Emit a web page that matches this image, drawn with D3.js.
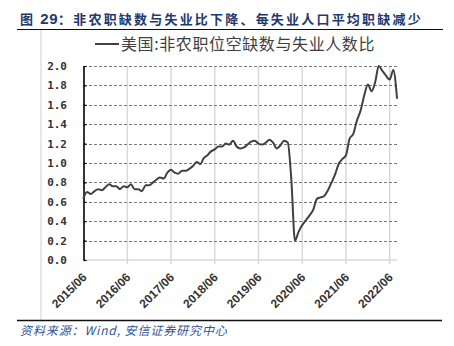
<!DOCTYPE html>
<html>
<head>
<meta charset="utf-8">
<script src="https://cdn.jsdelivr.net/npm/d3@7/dist/d3.min.js"></script>
<style>
  html, body { margin: 0; padding: 0; background: #fff; }
  svg { display: block; }
</style>
</head>
<body>
<svg id="chart" width="454" height="346"></svg>
<script>
// US ratio of nonfarm job openings to unemployed persons, monthly 2015/06 – 2022/08
const months = d3.timeMonth.range(new Date(2015, 5, 1), new Date(2022, 8, 1));
const ratio = [
  0.64, 0.70, 0.68, 0.71, 0.73, 0.72, 0.75, 0.78, 0.76, 0.76, 0.73, 0.76,
  0.75, 0.78, 0.73, 0.73, 0.71, 0.77, 0.77, 0.80, 0.83, 0.85, 0.84, 0.90,
  0.93, 0.90, 0.89, 0.92, 0.92, 0.94, 0.97, 1.01, 0.99, 1.05, 1.08, 1.12,
  1.14, 1.17, 1.17, 1.20, 1.19, 1.23, 1.17, 1.15, 1.16, 1.19, 1.22, 1.23,
  1.20, 1.19, 1.21, 1.24, 1.21, 1.15, 1.18, 1.23, 1.21, 0.84, 0.20, 0.29,
  0.36, 0.41, 0.46, 0.52, 0.63, 0.645, 0.66, 0.72, 0.80, 0.88, 0.99, 1.04,
  1.08, 1.25, 1.30, 1.44, 1.54, 1.70, 1.81, 1.74, 1.84, 2.00, 1.95, 1.90,
  1.86, 1.96, 1.67
];
const yTicks = [0.0, 0.2, 0.4, 0.6, 0.8, 1.0, 1.2, 1.4, 1.6, 1.8, 2.0];
const xTickLabels = ["2015/06", "2016/06", "2017/06", "2018/06", "2019/06", "2020/06", "2021/06", "2022/06"];
const seriesName = "美国:非农职位空缺数与失业人数比";
const title = "非农职缺数与失业比下降、每失业人口平均职缺减少";
const source = "资料来源：Wind, 安信证券研究中心";

const data = months.map((d, i) => ({ date: d, value: ratio[i] }));
const parseTick = d3.timeParse("%Y/%m");
const xTicks = xTickLabels.map(parseTick);

const svg = d3.select("#chart");
const navy = "#1f3a6e";

// Heading
const t = svg.append("text")
  .attr("x", 20).attr("y", 24)
  .attr("fill", navy)
  .attr("font-family", "'Noto Sans CJK SC', sans-serif")
  .attr("font-weight", "bold")
  .attr("font-size", 13)
  .attr("letter-spacing", 2.2);
t.append("tspan").text("图 ");
t.append("tspan").attr("font-family", "'Liberation Sans', Arial, sans-serif")
  .attr("font-size", 15).attr("letter-spacing", 0.5).text("29");
t.append("tspan").text("：" + title);

svg.append("line").attr("x1", 17).attr("x2", 443).attr("y1", 29.5).attr("y2", 29.5)
  .attr("stroke", "#111").attr("stroke-width", 1.2);
svg.append("line").attr("x1", 41).attr("x2", 41).attr("y1", 30).attr("y2", 320)
  .attr("stroke", "#cfcfcf").attr("stroke-width", 1);
svg.append("line").attr("x1", 17).attr("x2", 442).attr("y1", 320.5).attr("y2", 320.5)
  .attr("stroke", "#111").attr("stroke-width", 1.4);

svg.append("text")
  .attr("x", 20).attr("y", 335)
  .attr("fill", "#2f5597")
  .attr("font-family", "'Noto Sans CJK SC', sans-serif")
  .attr("font-style", "italic")
  .attr("font-size", 12)
  .attr("letter-spacing", 0.9)
  .text(source);

// Plot area
const x = d3.scaleTime()
  .domain([months[0], months[months.length - 1]])
  .range([83.5, 397]);
const y = d3.scaleLinear().domain([0, 2]).range([260, 66]);

// vertical grid
svg.append("g").selectAll("line").data(xTicks.slice(1)).join("line")
  .attr("x1", d => x(d)).attr("x2", d => x(d))
  .attr("y1", 66).attr("y2", 264)
  .attr("stroke", "#d9d9d9").attr("stroke-width", 1.5);

// bottom baseline
svg.append("line").attr("x1", 83.5).attr("x2", 397).attr("y1", 260).attr("y2", 260)
  .attr("stroke", "#d9d9d9").attr("stroke-width", 1.5);

// horizontal dashed grid
svg.append("g").selectAll("line").data(yTicks.filter(v => v > 0)).join("line")
  .attr("x1", 84).attr("x2", 397)
  .attr("y1", d => Math.round(y(d)) + 0.5).attr("y2", d => Math.round(y(d)) + 0.5)
  .attr("stroke", "#7a7a7a").attr("stroke-width", 1)
  .attr("stroke-dasharray", "3,2");

// left axis with inward ticks
const yAxis = d3.axisRight(y).tickValues(yTicks).tickSize(3).tickFormat("");
const ga = svg.append("g").attr("transform", "translate(83.5,0)").call(yAxis);
ga.select(".domain").attr("stroke", "#000").attr("stroke-width", 1.6)
  .attr("d", `M0.5,${y(2)}V${y(0)}`);
ga.selectAll(".tick line").attr("stroke", "#000").attr("stroke-width", 1.2);

// y labels
svg.append("g").selectAll("text").data(yTicks).join("text")
  .attr("x", 67).attr("y", d => y(d))
  .attr("dy", "0.36em")
  .attr("text-anchor", "end")
  .attr("fill", "#333")
  .attr("font-family", "'DejaVu Sans Mono', monospace")
  .attr("font-weight", "bold")
  .attr("font-size", 11)
  .text(d => d3.format(".1f")(d));

// x labels
svg.append("g").selectAll("text").data(xTicks).join("text")
  .attr("transform", d => `translate(${x(d) + 4},278) rotate(-45)`)
  .attr("text-anchor", "end")
  .attr("fill", "#333")
  .attr("font-family", "'Liberation Sans', Arial, sans-serif")
  .attr("font-weight", "bold")
  .attr("font-size", 12)
  .text(d3.timeFormat("%Y/%m"));

// series line
const line = d3.line().x(d => x(d.date)).y(d => y(d.value)).curve(d3.curveMonotoneX);
svg.append("path").datum(data)
  .attr("d", line)
  .attr("fill", "none")
  .attr("stroke", "#404040")
  .attr("stroke-width", 2)
  .attr("stroke-linejoin", "round")
  .attr("stroke-linecap", "round");

// legend
svg.append("line").attr("x1", 95).attr("x2", 119).attr("y1", 44).attr("y2", 44)
  .attr("stroke", "#404040").attr("stroke-width", 2);
svg.append("text")
  .attr("x", 121).attr("y", 49.5)
  .attr("fill", "#404040")
  .attr("font-family", "'Noto Sans CJK SC', sans-serif")
  .attr("font-size", 16)
  .attr("letter-spacing", 0.6)
  .text(seriesName);
</script>
</body>
</html>
